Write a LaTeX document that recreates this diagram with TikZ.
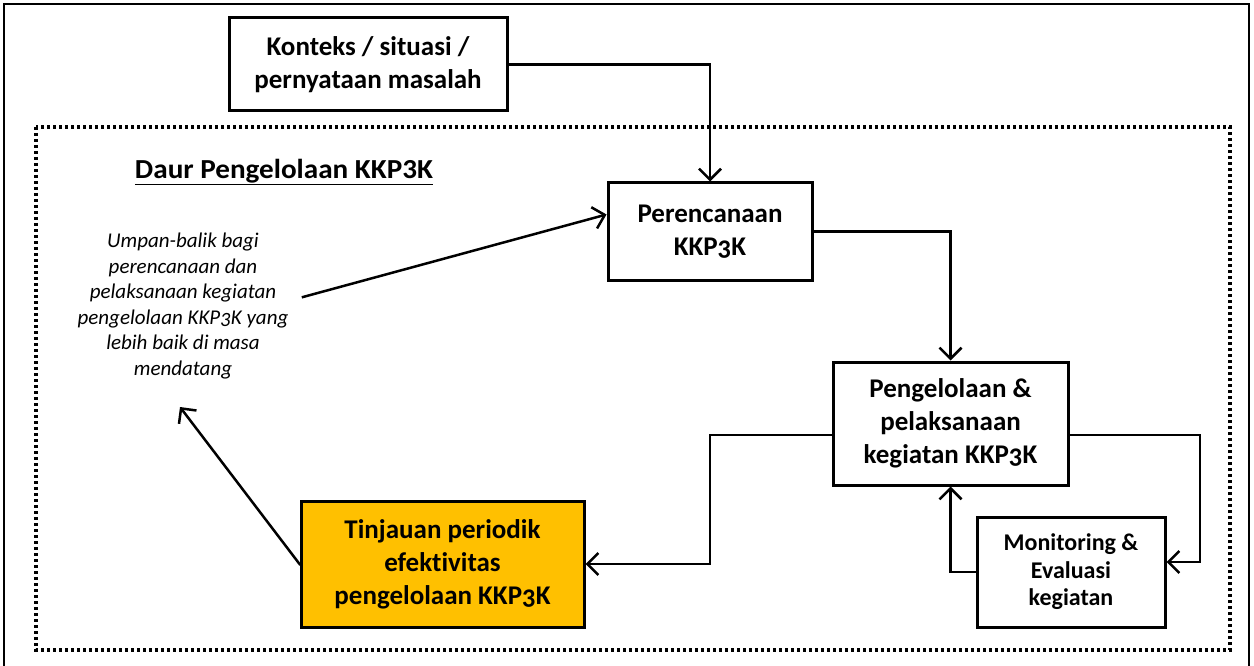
\documentclass[tikz,border=0pt]{standalone}
\usepackage{fontspec}
\setmainfont{Carlito}[Numbers=OldStyle,Ligatures=NoCommon,RawFeature={-calt;-clig}]
\newfontfamily\titlefont{Carlito}[FakeStretch=1.06,Ligatures=NoCommon,RawFeature={-calt;-clig}]
\usetikzlibrary{arrows.meta,calc}
\definecolor{boxorange}{HTML}{FFC000}
\tikzset{
  box/.style={draw=black,line width=3pt,fill=white,align=center,inner sep=0pt,font=\bfseries\fontsize{27}{33}\selectfont},
  conn/.style={line width=2.5pt,line cap=rect},
  arr/.style={conn,-{Straight Barb[length=11pt,width=22pt,line width=2.5pt]}},
}
\begin{document}
\begin{tikzpicture}[x=1pt,y=-1pt]
\useasboundingbox (0,0) rectangle (1254,666);
% frames
\draw[line width=2pt] (4,4) rectangle (1249,670);
\draw[line width=3.5pt,dash pattern=on 3pt off 3pt] (36,127) rectangle (1230,650);
% nodes
\node[box,minimum width=278pt,minimum height=93pt] (konteks) at (368,64.5) {Konteks / situasi /\\pernyataan masalah};
\node[box,minimum width=204pt,minimum height=97pt] (peren) at (710,231.5) {Perencanaan\\KKP3K};
\node[box,minimum width=235pt,minimum height=123pt] (pengel) at (950.5,423.5) {Pengelolaan \&\\pelaksanaan\\kegiatan KKP3K};
\node[box,minimum width=188pt,minimum height=110pt,font=\bfseries\fontsize{24}{27.5}\selectfont] (monit) at (1071,572) {Monitoring \&\\Evaluasi\\kegiatan};
\node[box,fill=boxorange,minimum width=283pt,minimum height=126pt] (tinj) at (442.5,564) {Tinjauan periodik\\efektivitas\\pengelolaan KKP3K};
\node[font=\titlefont\bfseries\fontsize{27.5}{30}\selectfont] (title) at (284,172) {\underline{Daur Pengelolaan KKP3K}};
\node[align=center,font=\itshape\fontsize{21}{25.5}\selectfont,inner sep=0pt] (fb) at (183,306) {Umpan-balik bagi\\perencanaan dan\\pelaksanaan kegiatan\\pengelolaan KKP3K yang\\lebih baik di masa\\mendatang};
% coordinates
\coordinate (r1) at (1200,435);
\coordinate (r2) at (1200,562);
\coordinate (l1) at (710,435);
\coordinate (fbstart) at (303,297);
\coordinate (fbtip) at (180,407);
% connectors
\draw[arr] (konteks.east) -| (peren.north);
\draw[arr] (peren.east) -| (pengel.north);
\draw[conn] (pengel.east |- r1) -- (r1);
\draw[arr] (r1) -- (r2) -- (monit.east |- r2);
\draw[arr] (monit.west) -| (pengel.south);
\draw[arr] (pengel.west |- l1) -- (l1) |- (tinj.east);
\draw[arr] (tinj.west) -- (fbtip);
\draw[arr] (fbstart) -- ($(peren.north west)!0.33!(peren.south west)$);
\end{tikzpicture}
\end{document}
